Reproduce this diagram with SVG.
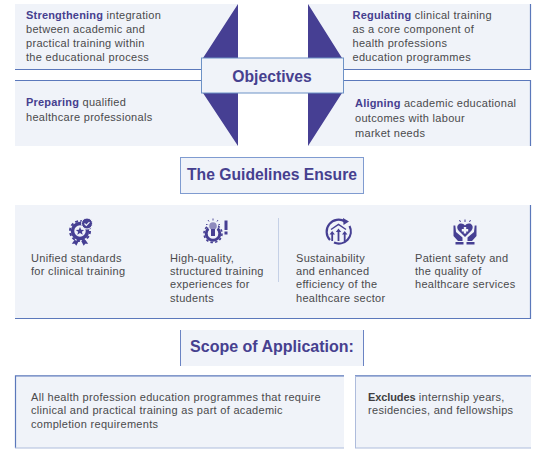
<svg xmlns="http://www.w3.org/2000/svg" width="558" height="453" viewBox="0 0 558 453">
<style>
.p{fill:#f0f3f9}
.e{fill:none;stroke:#5b78bb;stroke-width:1.2}
.t{font:11px "Liberation Sans",Arial,sans-serif;fill:#4a4a4c;letter-spacing:.3px}
.b{font-weight:700;fill:#46408f;letter-spacing:.2px}
.k{font-weight:700;fill:#3f3f42;letter-spacing:-.1px}
.h{font:700 15.7px "Liberation Sans",Arial,sans-serif;fill:#46408f;text-anchor:middle}
.tri{fill:#463f93}
.i{fill:#463f93}
.s{fill:none;stroke:#463f93;stroke-width:2}
</style>
<g id="objective-top-left">
<rect class="p" x="15" y="4" width="223" height="65"/><path class="e" d="M15 69.500H202"/>
<text class="t" x="26" y="19"><tspan class="b">Strengthening</tspan> integration</text>
<text class="t" x="26" y="33">between academic and</text>
<text class="t" x="26" y="47">practical training within</text>
<text class="t" x="26" y="61">the educational process</text>
</g>
<g id="objective-bottom-left">
<rect class="p" x="15" y="81" width="223" height="65"/><path class="e" d="M15 80.500H202"/>
<text class="t" x="26" y="106"><tspan class="b">Preparing</tspan> qualified</text>
<text class="t" x="26" y="121">healthcare professionals</text>
</g>
<g id="objective-top-right">
<rect class="p" x="308" y="4" width="223" height="65"/><path class="e" d="M342 69.500H530.500V4"/>
<text class="t" x="352.500" y="19"><tspan class="b">Regulating</tspan> clinical training</text>
<text class="t" x="352.500" y="33">as a core component of</text>
<text class="t" x="352.500" y="47">health professions</text>
<text class="t" x="352.500" y="61">education programmes</text>
</g>
<g id="objective-bottom-right">
<rect class="p" x="308" y="81" width="223" height="65"/><path class="e" d="M342 80.500H530.500V146"/>
<text class="t" x="355" y="107"><tspan class="b">Aligning</tspan> academic educational</text>
<text class="t" x="355" y="122">outcomes with labour</text>
<text class="t" x="355" y="137">market needs</text>
</g>
<g id="objective-triangles">
<path class="tri" d="M238 4V58H203ZM238 146V93H203ZM308 4V58H342ZM308 146V93H342Z"/>
</g>
<g id="objectives">
<rect class="p" x="201.500" y="58" width="142" height="35" style="stroke:#6d92c6;stroke-width:1"/>
<text class="h" x="272" y="82">Objectives</text>
</g>
<g id="guidelines-heading">
<rect class="p" x="180.500" y="157.500" width="183" height="36" style="stroke:#7f9bd0;stroke-width:1"/>
<text class="h" x="272" y="180">The Guidelines Ensure</text>
</g>
<g id="guidelines-panel">
<rect class="p" x="15" y="205" width="516" height="113"/>
<path class="e" d="M15 318.500H530.500V205"/>
<path d="M278.500 218V282" stroke="#c5d0e6" stroke-width="1"/>
</g>
<g id="unified-standards">
<g>
<circle cx="80" cy="231" r="7.500" class="s" style="stroke-width:3.500"/>
<circle cx="80" cy="231" r="10" fill="none" stroke="#463f93" stroke-width="2" stroke-dasharray="3 2.240"/>
<path class="i" d="M80 227l1.200 2.700 3 .2-2.300 1.900.8 2.900-2.700-1.600-2.700 1.600.8-2.900-2.300-1.900 3-.2Z"/>
<path class="i" d="M74.500 240l-2.700 3.800 3 0 1.500 2 2.500-4.700ZM85.500 240l2.700 3.800-3 0-1.500 2-2.500-4.700Z"/>
<circle cx="87" cy="223.500" r="5.500" fill="#463f93" stroke="#f0f3f9"/>
<path d="M84.500 223.500l1.800 1.800 3.200-3.200" fill="none" stroke="#f0f3f9" stroke-width="1.200"/>
</g>
<text class="t" x="31" y="262">Unified standards</text>
<text class="t" x="31" y="275">for clinical training</text>
</g>
<g id="high-quality-experiences">
<g>
<circle cx="213" cy="233.500" r="6.800" class="s" style="stroke-width:3"/>
<circle cx="213" cy="233.500" r="9" fill="none" stroke="#463f93" stroke-width="1.600" stroke-dasharray="2.500 2.212"/>
<circle cx="213" cy="226.500" r="5" fill="#f0f3f9"/>
<circle cx="213" cy="226" r="3.800" fill="#8f8bbd"/>
<rect x="211" y="229" width="4" height="7" class="i"/>
<path d="M213 218.500v2M208 220l1 1.500M218 220l-1 1.500M206 224.500h1.500M218.500 224.500h1.500" stroke="#463f93" stroke-width=".9"/>
<rect x="224.500" y="220.500" width="3" height="9.500" class="i"/>
<rect x="224.500" y="231.500" width="3" height="3" class="i"/>
</g>
<text class="t" x="170" y="262">High-quality,</text>
<text class="t" x="170" y="275">structured training</text>
<text class="t" x="170" y="288">experiences for</text>
<text class="t" x="170" y="302">students</text>
</g>
<g id="sustainability">
<g>
<path class="s" d="M345 221.500A12 12 0 0 0 330 240" style="stroke-width:2.200"/>
<path class="s" d="M349.500 226A12 12 0 0 1 334 242.500" style="stroke-width:2.200"/>
<path class="i" d="M343 218l6 3.500-5.500 3.500Z"/>
<path d="M331 229.500l7.500-5 7.500 5" class="s" style="stroke-width:1.500"/>
<path class="i" d="M331.300 241v-6.500h-1.800l2.700-3.500 2.700 3.500h-1.800v6.500ZM337.600 241v-9h-1.800l2.700-3.500 2.700 3.500h-1.800v9ZM343.800 241v-6.500H342l2.700-3.500 2.700 3.500h-1.800v6.500Z"/>
</g>
<text class="t" x="296" y="262">Sustainability</text>
<text class="t" x="296" y="275">and enhanced</text>
<text class="t" x="296" y="288">efficiency of the</text>
<text class="t" x="296" y="302">healthcare sector</text>
</g>
<g id="patient-safety">
<g>
<path class="i" d="M465 237l-6.500-6.500c-2.500-3-.8-6.500 1.700-7 2-.4 3.700.5 4.800 2 1.100-1.500 2.800-2.400 4.800-2 2.500.5 4.200 4 1.700 7Z"/>
<path d="M463.800 227h2.400v2h2v2.400h-2v2h-2.400v-2h-2v-2.400h2Z" fill="#f0f3f9"/>
<path class="i" d="M453.500 225.500h1.800l.7 6.500 6.500 5.500v3.500h-4.500l-4.500-5ZM476.500 225.500h-1.800l-.7 6.500-6.500 5.500v3.500h4.500l4.500-5Z"/>
<rect x="455.500" y="242" width="8" height="2.500" class="i"/><rect x="466.500" y="242" width="8" height="2.500" class="i"/>
<path d="M465 219.500v2.500M459.500 220l1 2M470.500 220l-1 2" stroke="#463f93" stroke-width="1"/>
</g>
<text class="t" x="415" y="262">Patient safety and</text>
<text class="t" x="415" y="275">the quality of</text>
<text class="t" x="415" y="288">healthcare services</text>
</g>
<g id="scope-heading">
<rect class="p" x="181" y="330" width="182" height="36"/>
<path d="M180.500 330V366M363.500 330V366" stroke="#6a83c3" stroke-width="1"/>
<text class="h" x="272" y="352" style="font-size:16px">Scope of Application:</text>
</g>
<g id="scope-includes">
<rect class="p" x="15" y="376" width="329" height="72"/>
<path class="e" d="M15.500 448V375.800H344"/><path d="M15 448H344" stroke="#aebcdc" stroke-width="1"/>
<text class="t" x="31" y="401">All health profession education programmes that require</text>
<text class="t" x="31" y="414">clinical and practical training as part of academic</text>
<text class="t" x="31" y="428">completion requirements</text>
</g>
<g id="scope-excludes">
<rect class="p" x="355" y="376" width="176" height="72"/>
<path class="e" d="M355 375.800H531"/><path d="M355 448H531M355.500 376V448" stroke="#aebcdc" stroke-width="1"/>
<text class="t" x="368" y="401"><tspan class="k">Excludes</tspan> internship years,</text>
<text class="t" x="368" y="414">residencies, and fellowships</text>
</g>
</svg>
